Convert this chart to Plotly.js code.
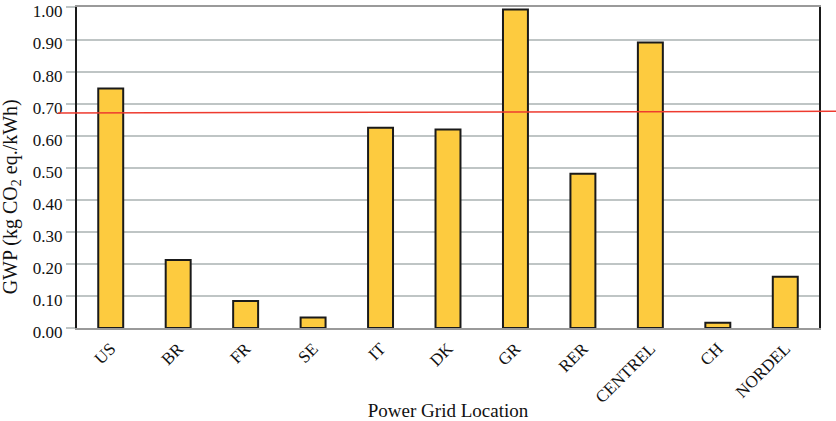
<!DOCTYPE html>
<html>
<head>
<meta charset="utf-8">
<script src="https://cdn.plot.ly/plotly-3.0.1.min.js"></script>
<style>html,body{margin:0;padding:0;background:#fff;}#chart{width:836px;height:421px;}</style>
</head>
<body>
<div id="chart"></div>
<script>
const categories = ["US", "BR", "FR", "SE", "IT", "DK", "GR", "RER", "CENTREL", "CH", "NORDEL"];
const gwpValues = [0.747, 0.212, 0.084, 0.033, 0.625, 0.619, 0.994, 0.481, 0.891, 0.016, 0.160];
const yTickValues = [0, 0.1, 0.2, 0.3, 0.4, 0.5, 0.6, 0.7, 0.8, 0.9, 1.0];
const yTickLabels = ["0.00", "0.10", "0.20", "0.30", "0.40", "0.50", "0.60", "0.70", "0.80", "0.90", "1.00"];
const referenceLine = [0.671, 0.676]; // left end, right end

const font = "Liberation Serif, Times New Roman, serif";

const trace = {
  type: "bar",
  x: categories,
  y: gwpValues,
  width: 0.37,
  marker: { color: "#FDCB3F", line: { color: "#1a1a1a", width: 2 } },
  hoverinfo: "x+y"
};

const layout = {
  width: 836, height: 421,
  margin: { l: 77, r: 17, t: 7, b: 92.5 },
  paper_bgcolor: "#fff", plot_bgcolor: "#fff",
  showlegend: false,
  font: { family: font, size: 17, color: "#111" },
  xaxis: {
    type: "category",
    tickangle: -45,
    ticks: "outside", ticklen: 2, tickcolor: "rgba(0,0,0,0)",
    showline: true, linecolor: "#9a9a9a", linewidth: 2, mirror: true,
    showgrid: false,
    tickfont: { family: font, size: 17, color: "#111" },
    title: { text: "Power Grid Location", font: { family: font, size: 19, color: "#111" }, standoff: 4 },
    automargin: false
  },
  yaxis: {
    range: [0, 1.0015],
    tickvals: yTickValues, ticktext: yTickLabels,
    ticks: "outside", ticklen: 9, tickcolor: "#bfc5c5", tickwidth: 2,
    ticklabeloverflow: "allow",
    ticklabelshift: 4,
    showline: true, linecolor: "#1a1a1a", linewidth: 2, mirror: true,
    showgrid: true, gridcolor: "#bfc5c5", gridwidth: 2,
    zeroline: false,
    tickfont: { family: font, size: 17, color: "#111" },
    automargin: false
  },
  annotations: [{
    text: "GWP (kg CO<sub>2</sub> eq./kWh)",
    xref: "paper", yref: "paper",
    x: -0.089, y: 0.41,
    xanchor: "center", yanchor: "middle",
    textangle: -90, showarrow: false,
    font: { family: font, size: 20, color: "#111" }
  }],
  shapes: [{
    type: "line", xref: "paper", yref: "y",
    x0: -0.026, x1: 1.03, y0: referenceLine[0], y1: referenceLine[1],
    line: { color: "#ee3b2f", width: 1.5 }
  }]
};

Plotly.newPlot("chart", [trace], layout, { displayModeBar: false, staticPlot: true });
</script>
</body>
</html>
